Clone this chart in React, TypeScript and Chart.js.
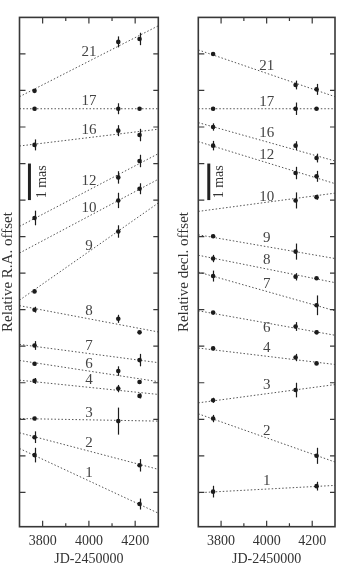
import React, { useEffect, useRef } from 'react';
import { Chart, registerables } from 'chart.js';

Chart.register(...registerables);

// ---------- data ----------
const EPOCHS = [3765, 4127, 4219];
const X_MIN = 3700;
const X_MAX = 4300;
const X_TICK_LABELS = [3800, 4000, 4200];
const X_TICK_MARKS = [3800, 3900, 4000, 4100, 4200];
const Y_TICK_MARKS = [1, 2, 3, 4, 5, 6, 7, 8, 9, 10, 11, 12, 13];
const LABEL_X = 4000;
const SOURCE_IDS = ['21', '17', '16', '12', '10', '9', '8', '7', '6', '4', '3', '2', '1'];

// Relative R.A. offset (mas), per source at each epoch (null = no measurement)
const RA_POINTS = [
  [11.99, 13.33, 13.41],
  [11.5, 11.5, 11.5],
  [10.51, 10.9, 10.78],
  [8.51, 9.62, 10.07],
  [null, 8.99, 9.31],
  [6.5, 8.14, null],
  [6.0, 5.75, 5.38],
  [5.02, null, 4.62],
  [4.52, 4.32, 4.02],
  [4.05, 3.84, 3.64],
  [3.02, 2.95, null],
  [2.51, null, 1.74],
  [2.02, null, 0.68],
];
const RA_ERRORS = [
  [0, 0.15, 0.17],
  [0.05, 0.15, 0],
  [0.15, 0.15, 0.17],
  [0.2, 0.17, 0.17],
  [0, 0.21, 0.15],
  [0, 0.17, 0],
  [0.08, 0.11, 0],
  [0.12, 0, 0.17],
  [0.05, 0.13, 0.05],
  [0.08, 0.1, 0.07],
  [0.05, 0.37, 0],
  [0.16, 0, 0.17],
  [0.2, 0, 0.15],
];
const RA_FIT_START = [11.83, 11.5, 10.48, 8.28, 7.55, 6.26, 6.11, 5.05, 4.61, 4.07, 3.02, 2.63, 2.2];
const RA_FIT_END = [13.77, 11.5, 10.94, 10.27, 9.57, 8.92, 5.39, 4.55, 4.03, 3.68, 2.95, 1.63, 0.43];
const RA_LABEL_Y = [13.05, 11.71, 10.92, 9.51, 8.78, 7.75, 5.96, 5.0, 4.5, 4.06, 3.18, 2.34, 1.54];

// Relative decl. offset (mas)
const DEC_POINTS = [
  [13.0, 12.15, 12.03],
  [11.5, 11.5, 11.5],
  [11.0, 10.49, 10.15],
  [10.49, 9.74, 9.65],
  [null, 8.99, 9.08],
  [8.01, 7.59, null],
  [7.4, 6.9, 6.86],
  [6.92, null, 6.12],
  [5.92, 5.54, 5.38],
  [4.94, 4.69, 4.53],
  [3.52, 3.8, null],
  [3.02, null, 2.0],
  [1.02, null, 1.17],
];
const DEC_ERRORS = [
  [0, 0.12, 0.15],
  [0.05, 0.17, 0],
  [0.1, 0.12, 0.12],
  [0.13, 0.17, 0.15],
  [0, 0.22, 0.07],
  [0.05, 0.22, 0],
  [0.1, 0.1, 0],
  [0.15, 0, 0.27],
  [0, 0.12, 0.05],
  [0.05, 0.1, 0],
  [0.07, 0.2, 0],
  [0.1, 0, 0.22],
  [0.16, 0, 0.12],
];
const DEC_FIT_START = [13.11, 11.5, 11.12, 10.6, 8.69, 8.05, 7.49, 7.03, 5.97, 4.95, 3.45, 3.15, 0.99];
const DEC_FIT_END = [11.83, 11.5, 10.07, 9.45, 9.19, 7.4, 6.74, 5.97, 5.3, 4.5, 3.95, 1.83, 1.19];
const DEC_LABEL_Y = [12.68, 11.69, 10.83, 10.24, 9.08, 7.96, 7.37, 6.69, 5.49, 4.94, 3.93, 2.68, 1.31];

const SCALE_BAR = [9, 10];
const SCALE_BAR_TEXT = '1 mas';

// ---------- styling ----------
const SERIF = '"Liberation Serif", "Times New Roman", serif';
const INK = '#1c1c1c';
const AXIS = '#383838';
const FIT = '#555555';
const TEXT = '#333333';

const decorPlugin = {
  id: 'decor',
  afterDatasetsDraw(chart: any, _args: any, opts: any) {
    const { ctx, chartArea: ca } = chart;
    const xs = chart.scales.x;
    const ys = chart.scales.y;
    ctx.save();

    // error bars
    ctx.strokeStyle = INK;
    ctx.lineWidth = 1.2;
    opts.points.forEach((row: (number | null)[], i: number) => {
      row.forEach((v, j) => {
        const e = opts.errors[i][j];
        if (v == null || !e) return;
        const px = Math.round(xs.getPixelForValue(EPOCHS[j])) + 0.5;
        ctx.beginPath();
        ctx.moveTo(px, ys.getPixelForValue(v - e));
        ctx.lineTo(px, ys.getPixelForValue(v + e));
        ctx.stroke();
      });
    });

    // source labels
    ctx.fillStyle = '#444';
    ctx.font = `15px ${SERIF}`;
    ctx.textAlign = 'center';
    ctx.textBaseline = 'middle';
    SOURCE_IDS.forEach((id, i) => {
      ctx.fillText(id, xs.getPixelForValue(LABEL_X), ys.getPixelForValue(opts.labelY[i]));
    });

    // scale bar
    ctx.strokeStyle = '#222';
    ctx.lineWidth = 3;
    const bx = xs.getPixelForValue(opts.barX);
    ctx.beginPath();
    ctx.moveTo(bx, ys.getPixelForValue(SCALE_BAR[0]));
    ctx.lineTo(bx, ys.getPixelForValue(SCALE_BAR[1]));
    ctx.stroke();
    ctx.save();
    ctx.translate(xs.getPixelForValue(opts.barTextX), ys.getPixelForValue((SCALE_BAR[0] + SCALE_BAR[1]) / 2));
    ctx.rotate(-Math.PI / 2);
    ctx.fillStyle = TEXT;
    ctx.font = `14px ${SERIF}`;
    ctx.fillText(SCALE_BAR_TEXT, 0, 0);
    ctx.restore();

    // frame
    ctx.strokeStyle = AXIS;
    ctx.lineWidth = 1.6;
    ctx.strokeRect(ca.left, ca.top, ca.right - ca.left, ca.bottom - ca.top);

    // inward tick marks
    ctx.lineWidth = 1.2;
    Y_TICK_MARKS.forEach((v) => {
      const py = ys.getPixelForValue(v);
      ctx.beginPath();
      ctx.moveTo(ca.left, py);
      ctx.lineTo(ca.left + 6, py);
      ctx.moveTo(ca.right, py);
      ctx.lineTo(ca.right - 5, py);
      ctx.stroke();
    });
    X_TICK_MARKS.forEach((v) => {
      const px = xs.getPixelForValue(v);
      const len = X_TICK_LABELS.includes(v) ? 6 : 3.5;
      ctx.beginPath();
      ctx.moveTo(px, ca.top);
      ctx.lineTo(px, ca.top + len);
      ctx.moveTo(px, ca.bottom);
      ctx.lineTo(px, ca.bottom - len);
      ctx.stroke();
    });

    ctx.restore();
  },
};

function buildDatasets(points: (number | null)[][], fitStart: number[], fitEnd: number[]) {
  const fits = SOURCE_IDS.map((id, i) => ({
    label: `fit ${id}`,
    data: [
      { x: X_MIN, y: fitStart[i] },
      { x: X_MAX, y: fitEnd[i] },
    ],
    showLine: true,
    borderColor: FIT,
    borderWidth: 1,
    borderDash: [1.5, 2],
    pointRadius: 0,
    fill: false,
    order: 2,
  }));
  const pts = SOURCE_IDS.map((id, i) => ({
    label: `source ${id}`,
    data: EPOCHS.map((ep, j) => (points[i][j] == null ? null : { x: ep, y: points[i][j] })).filter(Boolean),
    showLine: false,
    pointRadius: 2.3,
    pointBackgroundColor: INK,
    pointBorderWidth: 0,
    order: 1,
  }));
  return [...fits, ...pts];
}

type PanelProps = {
  left: number;
  width: number;
  title: string;
  points: (number | null)[][];
  errors: number[][];
  fitStart: number[];
  fitEnd: number[];
  labelY: number[];
  padLeft: number;
  padRight: number;
  titleGap: number;
  barX: number;
  barTextX: number;
};

function Panel(p: PanelProps) {
  const ref = useRef<HTMLCanvasElement>(null);
  useEffect(() => {
    if (!ref.current) return;
    const chart = new Chart(ref.current, {
      type: 'scatter',
      data: { datasets: buildDatasets(p.points, p.fitStart, p.fitEnd) as any },
      plugins: [decorPlugin as any],
      options: {
        animation: false,
        responsive: false,
        devicePixelRatio: 1,
        layout: { padding: { top: 17.4, bottom: 0, left: p.padLeft, right: p.padRight } },
        plugins: {
          legend: { display: false },
          tooltip: { enabled: false },
          decor: {
            points: p.points,
            errors: p.errors,
            labelY: p.labelY,
            barX: p.barX,
            barTextX: p.barTextX,
          },
        } as any,
        scales: {
          x: {
            type: 'linear',
            min: X_MIN,
            max: X_MAX,
            grid: { display: false, drawTicks: false },
            border: { display: false },
            afterBuildTicks: (scale: any) => {
              scale.ticks = X_TICK_LABELS.map((v) => ({ value: v }));
            },
            ticks: {
              padding: 8,
              color: TEXT,
              font: { family: SERIF, size: 14, lineHeight: 1 },
              maxRotation: 0,
              callback: (v: any) => String(v),
            },
            title: {
              display: true,
              text: 'JD-2450000',
              color: TEXT,
              font: { family: SERIF, size: 14, lineHeight: 1 },
              padding: { top: -4.7, bottom: 0 },
            },
          },
          y: {
            type: 'linear',
            min: 0.06,
            max: 14,
            grid: { display: false, drawTicks: false },
            border: { display: false },
            ticks: { display: false },
            title: {
              display: true,
              text: p.title,
              color: TEXT,
              font: { family: SERIF, size: 15, lineHeight: 1 },
              padding: { top: 0, bottom: p.titleGap },
            },
          },
        },
      } as any,
    });
    return () => chart.destroy();
  }, []);
  return (
    <div style={{ position: 'absolute', left: p.left, top: 0, width: p.width, height: 566 }}>
      <canvas ref={ref} width={p.width} height={566} style={{ display: 'block', width: p.width, height: 566 }} />
    </div>
  );
}

export default function App() {
  return (
    <div style={{ position: 'absolute', left: 0, top: 0, width: 339, height: 566, background: '#fff' }}>
      <Panel
        left={0}
        width={170}
        title="Relative R.A. offset"
        points={RA_POINTS}
        errors={RA_ERRORS}
        fitStart={RA_FIT_START}
        fitEnd={RA_FIT_END}
        labelY={RA_LABEL_Y}
        padLeft={1}
        padRight={11.7}
        titleGap={3.5}
        barX={3743}
        barTextX={3797}
      />
      <Panel
        left={170}
        width={169}
        title="Relative decl. offset"
        points={DEC_POINTS}
        errors={DEC_ERRORS}
        fitStart={DEC_FIT_START}
        fitEnd={DEC_FIT_END}
        labelY={DEC_LABEL_Y}
        padLeft={7}
        padRight={3}
        titleGap={6.3}
        barX={3746}
        barTextX={3792}
      />
    </div>
  );
}
